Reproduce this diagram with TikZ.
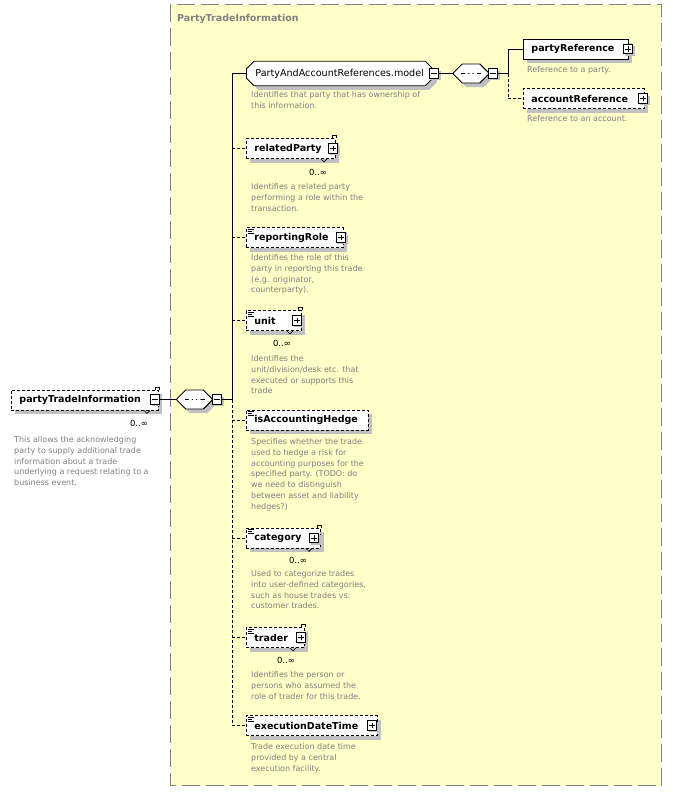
\documentclass[tikz,border=0pt]{standalone}
\usepackage{fontspec}
\setmainfont{DejaVu Sans}
\usetikzlibrary{shapes.misc,shadows}
\definecolor{paleyellow}{HTML}{FFFFC8}
\definecolor{txtgray}{HTML}{808080}
\definecolor{shadowgray}{HTML}{C0C0C0}

\begin{document}
\begin{tikzpicture}[x=1pt,y=-1pt,
  elem/.style={draw,fill=white,line width=0.9pt,anchor=west,minimum height=20pt,
    inner xsep=8pt,inner ysep=0pt,text width=#1,
    font=\fontsize{9.5}{11}\selectfont\bfseries,
    drop shadow={shadow xshift=4pt,shadow yshift=-4pt,fill=shadowgray,opacity=1}},
  opt/.style={elem=#1,dash pattern=on 3pt off 2pt},
  model/.style={chamfered rectangle,chamfered rectangle xsep=4pt,draw,fill=white,
    line width=0.9pt,anchor=west,minimum height=20pt,minimum width=182pt,
    inner xsep=5pt,inner ysep=4pt,
    font=\fontsize{9.6}{11}\selectfont,
    drop shadow={shadow xshift=4pt,shadow yshift=-4pt,fill=shadowgray,opacity=1}},
  seq/.style={chamfered rectangle,chamfered rectangle xsep=5pt,draw,fill=white,
    line width=0.9pt,minimum width=35pt,minimum height=19pt,inner xsep=5pt,inner ysep=5pt,
    drop shadow={shadow xshift=4pt,shadow yshift=-4pt,fill=shadowgray,opacity=1},
    path picture={
      \draw[line width=0.9pt] ([xshift=-10pt]path picture bounding box.center)
        -- ([xshift=10pt]path picture bounding box.center);
      \foreach \d in {-4.3,0,4.3}
        \fill ([xshift=\d pt]path picture bounding box.center) circle (1.7pt);}},
  minusbox/.style={draw,fill=white,line width=0.8pt,minimum size=9.5pt,inner sep=0pt,
    drop shadow={shadow xshift=2pt,shadow yshift=-2pt,fill=shadowgray,opacity=1},
    path picture={
      \draw[line width=0.8pt] ([xshift=2pt]path picture bounding box.west)
        -- ([xshift=-2pt]path picture bounding box.east);}},
  plusbox/.style={minusbox,
    path picture={
      \draw[line width=0.8pt] ([xshift=2pt]path picture bounding box.west)
        -- ([xshift=-2pt]path picture bounding box.east);
      \draw[line width=0.8pt] ([yshift=2pt]path picture bounding box.south)
        -- ([yshift=-2pt]path picture bounding box.north);}},
  desc/.style={anchor=north west,inner sep=0pt,align=left,text=txtgray,
    font=\fontsize{8}{10.9}\selectfont},
  card/.style={inner sep=0pt,font=\fontsize{8.5}{10}\selectfont},
  wire/.style={line width=0.9pt},
  optwire/.style={wire,dash pattern=on 3pt off 2pt}]

\useasboundingbox (0,0) rectangle (672,792);

% complex type frame
\draw[fill=paleyellow,draw=txtgray,line width=1pt,dash pattern=on 18pt off 6pt]
  (170.5,4.5) rectangle (661.5,785.5);
\node[anchor=west,inner sep=0pt,text=txtgray,font=\fontsize{9.5}{11}\selectfont\bfseries]
  (title) at (177,19) {PartyTradeInformation};

% elements
\node[opt=131] (pti) at (11,400) {partyTradeInformation};
\node[model] (pam) at (246,73.5) {PartyAndAccountReferences.model};
\node[elem=89] (pr) at (523,49) {partyReference};
\node[opt=105] (ar) at (523,98.5) {accountReference};
\node[opt=73] (rp) at (246,148.5) {relatedParty};
\node[opt=81] (rr) at (246,237.5) {reportingRole};
\node[opt=39] (unit) at (246,320.5) {unit};
\node[opt=106] (iah) at (246,420) {isAccountingHedge};
\node[opt=58] (cat) at (246,538) {category};
\node[opt=42] (trd) at (246,637.5) {trader};
\node[opt=115] (edt) at (246,725.5) {executionDateTime};

% repeated elements
\foreach \n in {pti,rp,unit,cat,trd} {
  \draw[line width=0.8pt] (\n.north east) ++(-4,0) -- ++(0,-2.5) -- ++(4,0) -- ++(0,2.5);
  \draw[line width=0.6pt] (\n.south east) ++(-15,0) -- ++(3,3) -- ++(3,-3);
}
% simple content
\foreach \n in {rr,unit,iah,cat,trd,edt}
  \draw[line width=0.6pt] (\n.north west) ++(2,2) -- ++(6,0) ++(-6,2) -- ++(4,0)
    ++(-4,2) -- ++(6,0);

% compositors
\node[seq] (seq1) at (194.5,399.5) {};
\node[seq] (seq2) at (471,73.5) {};
\coordinate (j1) at (232,399.5);
\coordinate (j2) at (508,73.5);
\coordinate (v1top) at (232,73.5);
\coordinate (v1bot) at (232,725.5);

% connectors
\draw[wire] (v1top) -- (j1);
\draw[optwire] (j1) -- (v1bot);
\draw[wire] (v1top) -- (pam);
\foreach \n in {rp,rr,unit,iah,cat,trd,edt}
  \draw[optwire] (\n.west -| j1) -- (\n.west);
\draw[wire] (j2) |- (pr);
\draw[optwire] (j2) |- (ar);

% expand buttons
\node[minusbox] (ptim) at (155,399.5) {};
\node[minusbox] (seq1m) at (217,399.5) {};
\node[minusbox] (pamm) at (434,73.5) {};
\node[minusbox] (seq2m) at (493,73.5) {};
\node[plusbox] (prp) at (628,49) {};
\node[plusbox] (arp) at (643,98.5) {};
\node[plusbox] (rpp) at (333,148.5) {};
\node[plusbox] (rrp) at (341,237.5) {};
\node[plusbox] (unitp) at (297,320.5) {};
\node[plusbox] (catp) at (314,538) {};
\node[plusbox] (trdp) at (301,637.5) {};
\node[plusbox] (edtp) at (372,725.5) {};
\draw[wire] (ptim) -- (seq1);
\draw[wire] (seq1m) -- (j1);
\draw[wire] (pamm) -- (seq2);
\draw[wire] (seq2m) -- (j2);

% occurrences
\node[card] (ptic) at (139,423) {0..∞};
\node[card] (rpc) at (318,172) {0..∞};
\node[card] (unitc) at (282,343) {0..∞};
\node[card] (catc) at (298,560) {0..∞};
\node[card] (trdc) at (286,660) {0..∞};

% annotations
\node[desc] (ptid) at (14,436) {This allows the acknowledging\\party to supply additional trade\\information about a trade\\underlying a request relating to a\\business event.};
\node[desc] (pamd) at (251,91) {Identifies that party that has ownership of\\this information.};
\node[desc] (prd) at (527,66) {Reference to a party.};
\node[desc] (ard) at (527,115) {Reference to an account.};
\node[desc] (rpd) at (251,183) {Identifies a related party\\performing a role within the\\transaction.};
\node[desc] (rrd) at (251,254) {Identifies the role of this\\party in reporting this trade\\(e.g. originator,\\counterparty).};
\node[desc] (unitd) at (251,355) {Identifies the\\unit/division/desk etc. that\\executed or supports this\\trade};
\node[desc] (iahd) at (251,438) {Specifies whether the trade\\used to hedge a risk for\\accounting purposes for the\\specified party. (TODO: do\\we need to distinguish\\between asset and liability\\hedges?)};
\node[desc] (catd) at (251,570) {Used to categorize trades\\into user-defined categories,\\such as house trades vs.\\customer trades.};
\node[desc] (trdd) at (251,671) {Identifies the person or\\persons who assumed the\\role of trader for this trade.};
\node[desc] (edtd) at (251,743) {Trade execution date time\\provided by a central\\execution facility.};

\end{tikzpicture}
\end{document}
